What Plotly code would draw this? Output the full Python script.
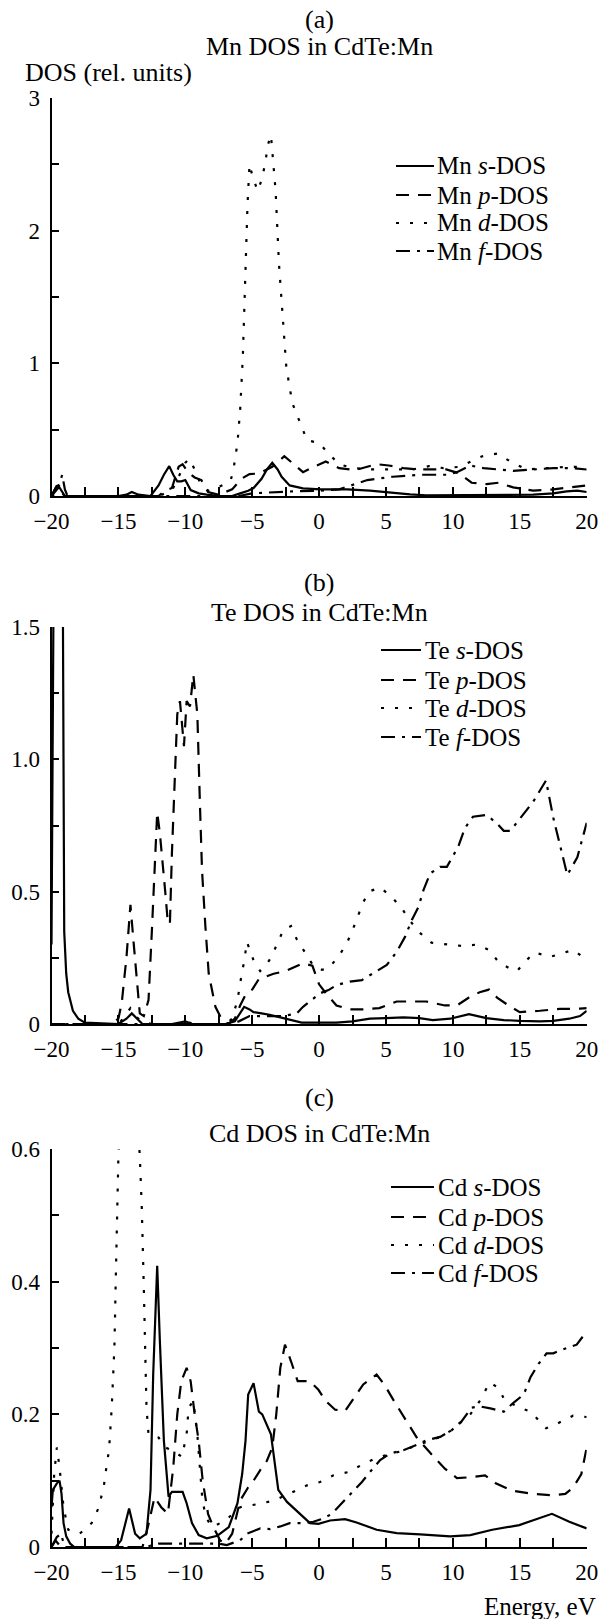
import plotly.graph_objects as go

# ---------------- data (energy in eV, DOS in rel. units) ----------------
mn_s_E = [-20, -19.7, -19.5, -19.2, -19.0, -18, -15, -14.4, -14.0, -13.5, -12.6, -12.0, -11.6, -11.2, -10.9, -10.6, -10.3, -10.0, -9.6, -9.0, -8.4, -7.4, -6.5, -5.9, -5.3, -4.9, -4.3, -3.9, -3.5, -3.1, -2.8, -2.2, -1.2, 0.1, 2.1, 3.8, 5.3, 6.8, 8, 10, 12, 14, 16, 17.5, 18.5, 19.3, 20]
mn_s = [0.0, 0.06, 0.08, 0.03, 0.0, 0.0, 0.0, 0.01, 0.03, 0.01, 0.0, 0.08, 0.16, 0.225, 0.16, 0.11, 0.11, 0.12, 0.045, 0.02, 0.01, 0.0, 0.0, 0.02, 0.04, 0.06, 0.13, 0.2, 0.25, 0.2, 0.145, 0.08, 0.058, 0.05, 0.05, 0.04, 0.025, 0.013, 0.005, 0.005, 0.005, 0.005, 0.01, 0.02, 0.035, 0.04, 0.03]

mn_p_E = [-20, -19.6, -19.3, -19.0, -12.0, -11.5, -11.0, -10.5, -10.2, -9.8, -9.3, -8.8, -8.3, -7.5, -6.5, -5.8, -5.2, -4.5, -3.5, -2.6, -1.9, -1.2, -0.4, 0.5, 1.5, 2.7, 4.3, 5.2, 6.3, 7.5, 8.5, 9.5, 10.5, 11.4, 12.5, 13.4, 14.5, 16.0, 17.5, 19.0, 20.0]
mn_p = [0.0, 0.08, 0.03, 0.0, 0.0, 0.04, 0.06, 0.22, 0.24, 0.18, 0.14, 0.12, 0.03, 0.01, 0.05, 0.13, 0.165, 0.17, 0.22, 0.3, 0.24, 0.18, 0.22, 0.26, 0.21, 0.195, 0.24, 0.23, 0.21, 0.2, 0.2, 0.2, 0.17, 0.1, 0.09, 0.1, 0.065, 0.04, 0.05, 0.07, 0.08]

mn_d_E = [-20, -19.5, -19.0, -12.0, -11.0, -10.5, -10.0, -9.7, -9.3, -8.9, -8.3, -7.7, -7.0, -6.6, -6.4, -6.1, -5.9, -5.7, -5.5, -5.35, -5.2, -5.0, -4.6, -4.3, -4.0, -3.85, -3.6, -3.4, -3.25, -3.0, -2.75, -2.45, -2.0, -1.6, -0.9, 0.0, 0.7, 1.5, 2.5, 4.0, 5.0, 7.0, 8.2, 9.3, 10.5, 12.2, 13.3, 14.3, 15.5, 17.0, 18.5, 20.0]
mn_d = [0.0, 0.03, 0.0, 0.0, 0.04, 0.15, 0.25, 0.28, 0.2, 0.1, 0.04, 0.06, 0.09, 0.12, 0.2, 0.4, 0.65, 1.05, 1.7, 2.2, 2.5, 2.42, 2.3, 2.38, 2.52, 2.64, 2.72, 2.5, 2.3, 1.75, 1.4, 0.97, 0.7, 0.6, 0.42, 0.4, 0.32, 0.24, 0.21, 0.2, 0.2, 0.2, 0.225, 0.21, 0.22, 0.3, 0.32, 0.26, 0.2, 0.21, 0.22, 0.22]

mn_f_E = [-20, -19.5, -19.2, -19.0, -18.8, -6.0, -5.0, -3.5, -2.0, 0.0, 1.5, 2.4, 3.6, 4.3, 5.5, 7.5, 9.5, 10.3, 11.3, 12.3, 13.5, 14.5, 16.0, 17.5, 19.0, 20.0]
mn_f = [0.0, 0.06, 0.16, 0.05, 0.0, 0.0, 0.02, 0.03, 0.035, 0.04, 0.05, 0.08, 0.12, 0.13, 0.145, 0.16, 0.16, 0.18, 0.23, 0.21, 0.2, 0.19, 0.2, 0.21, 0.21, 0.2]

te_s_E = [-20, -19.85, -19.15, -19.05, -18.9, -18.75, -18.4, -18.0, -17.5, -15, -14.4, -14.0, -13.6, -13.2, -11, -10, -9.5, -7, -6.3, -5.6, -5.2, -4.9, -4.3, -3.7, -2.9, -2.0, -1.3, 0, 1.3, 2.5, 3.8, 5, 6.3, 7.5, 8.5, 9.8, 11.2, 12.5, 13.8, 15, 16.5, 17.5, 18.7, 19.5, 20]
te_s = [0.3, 1.6, 1.6, 0.35, 0.19, 0.12, 0.05, 0.02, 0.005, 0.0, 0.02, 0.04, 0.02, 0.0, 0.0, 0.01, 0.0, 0.0, 0.01, 0.065, 0.055, 0.045, 0.04, 0.035, 0.025, 0.015, 0.005, 0.005, 0.005, 0.01, 0.02, 0.022, 0.025, 0.022, 0.015, 0.02, 0.037, 0.022, 0.015, 0.012, 0.01, 0.012, 0.02, 0.03, 0.05]

te_p_E = [-20, -15.5, -15.0, -14.75, -14.4, -14.1, -13.85, -13.6, -13.4, -13.1, -12.75, -12.5, -12.25, -12.1, -11.9, -11.75, -11.5, -11.3, -11.15, -11.0, -10.75, -10.6, -10.4, -10.25, -10.1, -9.9, -9.65, -9.4, -9.1, -8.9, -8.75, -8.5, -8.25, -7.75, -7.25, -6.8, -6.3, -5.9, -5.5, -5.0, -4.5, -3.4, -2.5, -1.2, -0.5, 0.0, 0.6, 1.3, 2.3, 3.2, 4.5, 5.8, 6.7, 8.0, 9.4, 10.3, 11.2, 12.0, 12.7, 13.3, 14.3, 15.0, 16.5, 18.0, 19.5, 20.0]
te_p = [0.0, 0.0, 0.02, 0.08, 0.25, 0.45, 0.3, 0.14, 0.04, 0.03, 0.09, 0.35, 0.645, 0.8, 0.72, 0.645, 0.5, 0.38, 0.38, 0.645, 0.985, 1.17, 1.22, 1.14, 1.05, 1.22, 1.2, 1.32, 1.17, 0.82, 0.58, 0.37, 0.19, 0.065, 0.015, 0.0, 0.02, 0.07, 0.11, 0.13, 0.17, 0.19, 0.2, 0.23, 0.22, 0.15, 0.11, 0.07, 0.055, 0.055, 0.06, 0.085, 0.085, 0.085, 0.07, 0.07, 0.1, 0.12, 0.13, 0.1, 0.065, 0.045, 0.05, 0.057, 0.058, 0.06]

te_d_E = [-20, -15, -14.5, -14.1, -13.7, -13.3, -12.5, -10.5, -10.0, -9.5, -7.0, -6.5, -6.1, -5.95, -5.75, -5.6, -5.4, -5.1, -4.9, -4.4, -4.0, -3.6, -3.17, -2.67, -2.1, -1.67, -1.05, -0.43, 0.2, 0.7, 1.45, 2.07, 2.5, 2.87, 3.26, 3.7, 4.56, 5.43, 6.18, 6.8, 7.4, 8.4, 9.55, 10.67, 11.8, 12.7, 13.4, 14.4, 14.8, 15.4, 16.1, 17.3, 19.0, 20.0]
te_d = [0.0, 0.0, 0.03, 0.06, 0.03, 0.01, 0.0, 0.0, 0.015, 0.0, 0.0, 0.02, 0.09, 0.14, 0.2, 0.235, 0.31, 0.27, 0.24, 0.2, 0.22, 0.25, 0.30, 0.355, 0.37, 0.32, 0.27, 0.22, 0.205, 0.21, 0.255, 0.305, 0.355, 0.405, 0.455, 0.5, 0.516, 0.48, 0.437, 0.39, 0.35, 0.307, 0.3, 0.295, 0.3, 0.28, 0.235, 0.205, 0.2, 0.236, 0.27, 0.254, 0.28, 0.242]

te_f_E = [-20, -7, -6, -5.2, -4.5, -3.67, -2.67, -1.67, -1.2, 0.07, 0.7, 1.3, 2.3, 3.2, 4.3, 5.06, 5.8, 6.43, 6.93, 7.43, 7.8, 8.3, 9.05, 9.55, 10.4, 10.9, 11.5, 12.5, 13.3, 13.8, 14.3, 15.0, 16.0, 16.96, 17.5, 18.55, 19.3, 20.0]
te_f = [0.0, 0.0, 0.01, 0.03, 0.03, 0.03, 0.03, 0.04, 0.065, 0.116, 0.128, 0.147, 0.16, 0.166, 0.198, 0.223, 0.273, 0.33, 0.393, 0.443, 0.506, 0.569, 0.594, 0.594, 0.67, 0.74, 0.783, 0.79, 0.758, 0.73, 0.73, 0.777, 0.84, 0.92, 0.78, 0.563, 0.63, 0.76]

cd_s_E = [-20, -19.9, -19.6, -19.4, -19.25, -19.1, -18.9, -18.6, -18.3, -15.2, -14.8, -14.5, -14.2, -13.75, -13.4, -12.9, -12.6, -12.4, -12.1, -11.9, -11.6, -11.25, -11.0, -10.2, -9.9, -9.5, -9.0, -8.4, -7.6, -6.75, -6.1, -5.75, -5.5, -5.3, -4.9, -4.5, -4.25, -3.6, -3.25, -3.05, -2.4, -1.4, -0.68, -0.05, 0.82, 1.94, 2.8, 4.3, 5.8, 7.55, 9.8, 11.3, 12.94, 14.96, 16.2, 17.4, 18.7, 20.0]
cd_s = [0.06, 0.086, 0.096, 0.1, 0.08, 0.036, 0.016, 0.005, 0.0, 0.0, 0.01, 0.036, 0.058, 0.02, 0.013, 0.02, 0.086, 0.26, 0.424, 0.31, 0.16, 0.076, 0.083, 0.083, 0.066, 0.036, 0.018, 0.013, 0.017, 0.03, 0.066, 0.11, 0.16, 0.23, 0.247, 0.204, 0.2, 0.17, 0.12, 0.086, 0.068, 0.05, 0.036, 0.035, 0.04, 0.042, 0.037, 0.026, 0.021, 0.019, 0.016, 0.018, 0.026, 0.033, 0.042, 0.05, 0.038, 0.028]

cd_p_E = [-20, -19.7, -19.3, -13.2, -12.8, -12.3, -11.8, -11.3, -10.9, -10.6, -10.3, -9.9, -9.6, -9.3, -9.0, -8.7, -8.3, -7.9, -7.4, -7.0, -6.5, -5.9, -5.3, -4.9, -4.4, -3.9, -3.5, -3.2, -2.9, -2.55, -2.1, -1.6, -0.7, -0.05, 0.5, 1.2, 1.94, 2.6, 3.3, 4.3, 4.9, 5.6, 6.4, 7.3, 8.3, 9.4, 10.3, 11.2, 12.4, 13.2, 14.4, 16.0, 17.5, 18.4, 19.0, 19.6, 20.0]
cd_p = [0.0, 0.01, 0.0, 0.0, 0.03, 0.075, 0.06, 0.05, 0.12, 0.2, 0.25, 0.27, 0.25, 0.2, 0.16, 0.1, 0.05, 0.03, 0.01, 0.005, 0.02, 0.07, 0.09, 0.1, 0.116, 0.13, 0.15, 0.2, 0.27, 0.305, 0.28, 0.25, 0.25, 0.237, 0.22, 0.207, 0.205, 0.225, 0.245, 0.26, 0.244, 0.22, 0.195, 0.165, 0.142, 0.118, 0.104, 0.105, 0.108, 0.096, 0.085, 0.08, 0.078, 0.08, 0.09, 0.11, 0.15]

cd_d_E = [-20, -19.8, -19.6, -19.4, -19.1, -18.75, -17.9, -17.0, -16.5, -16.1, -15.9, -15.7, -15.5, -15.3, -15.2, -15.1, -15.0, -14.8, -13.6, -13.4, -13.25, -13.1, -13.0, -12.9, -12.75, -12.0, -11.5, -11.0, -10.25, -9.9, -9.75, -9.4, -9.1, -8.9, -8.75, -8.5, -8.0, -7.0, -5.9, -4.5, -3.4, -2.5, -1.67, -0.9, 0.07, 1.07, 2.2, 3.2, 4.06, 5.06, 6.06, 7.05, 8.05, 9.05, 9.9, 10.7, 11.3, 12.0, 12.75, 13.4, 13.9, 14.3, 15.0, 15.8, 16.97, 17.8, 18.98, 20.0]
cd_d = [0.02, 0.11, 0.15, 0.12, 0.06, 0.026, 0.02, 0.036, 0.058, 0.09, 0.12, 0.146, 0.21, 0.30, 0.40, 0.51, 0.59, 0.65, 0.65, 0.59, 0.51, 0.39, 0.29, 0.21, 0.17, 0.165, 0.15, 0.146, 0.136, 0.17, 0.21, 0.22, 0.17, 0.12, 0.078, 0.046, 0.03, 0.04, 0.06, 0.065, 0.07, 0.078, 0.086, 0.093, 0.098, 0.108, 0.113, 0.124, 0.132, 0.139, 0.144, 0.151, 0.159, 0.166, 0.176, 0.189, 0.2, 0.22, 0.248, 0.24, 0.22, 0.217, 0.21, 0.204, 0.179, 0.186, 0.198, 0.196]

cd_f_E = [-20, -19.6, -19.3, -19, -13, -12.0, -11.0, -9.5, -8.5, -7.5, -6.9, -5.9, -5.4, -4.4, -3.67, -2.9, -2.2, -1.2, -0.43, 0.32, 0.95, 1.7, 2.44, 3.2, 3.8, 4.56, 5.3, 6.3, 7.3, 8.05, 9.05, 9.9, 10.67, 11.4, 12.0, 12.8, 13.8, 14.5, 15.3, 15.8, 16.4, 17.0, 17.5, 18.1, 19.25, 20.0]
cd_f = [0.0, 0.015, 0.02, 0.0, 0.0, 0.005, 0.005, 0.005, 0.005, 0.005, 0.003, 0.01, 0.02, 0.028, 0.027, 0.031, 0.036, 0.036, 0.038, 0.043, 0.05, 0.066, 0.081, 0.098, 0.113, 0.131, 0.141, 0.146, 0.154, 0.161, 0.166, 0.176, 0.19, 0.21, 0.212, 0.209, 0.204, 0.217, 0.23, 0.256, 0.276, 0.292, 0.292, 0.297, 0.305, 0.325]

x_tickvals = [-20, -17.5, -15, -12.5, -10, -7.5, -5, -2.5, 0, 2.5, 5, 7.5, 10, 12.5, 15, 17.5, 20]
x_ticktext = ["\u221220", "", "\u221215", "", "\u221210", "", "\u22125", "", "0", "", "5", "", "10", "", "15", "", "20"]
ya_tickvals = [0, 0.5, 1, 1.5, 2, 2.5, 3]
ya_ticktext = ["0", "", "1", "", "2", "", "3"]
yb_tickvals = [0, 0.25, 0.5, 0.75, 1.0, 1.25, 1.5]
yb_ticktext = ["0", "", "0.5", "", "1.0", "", "1.5"]
yc_tickvals = [0, 0.1, 0.2, 0.3, 0.4, 0.5, 0.6]
yc_ticktext = ["0", "", "0.2", "", "0.4", "", "0.6"]

orbitals = ["s", "p", "d", "f"]

# ---------------- figure ----------------
W, H = 600, 1619
FONT = "Liberation Serif"
FS_TITLE = 26
FS_LEG = 25
FT = 23
LW = 2.2

def py(px):
    return 1 - px / H

dash_styles = {
    "s": "solid",
    "p": "13px,9px",
    "d": "3px,11px",
    "f": "14px,7px,3px,7px",
}

fig = go.Figure()

panels = [
    ("Mn", "x", "y",
     [(mn_s_E, mn_s), (mn_p_E, mn_p), (mn_d_E, mn_d), (mn_f_E, mn_f)],
     dict(x0=396, x1=434, tx=435, rows=[166, 195, 223, 251])),
    ("Te", "x2", "y2",
     [(te_s_E, te_s), (te_p_E, te_p), (te_d_E, te_d), (te_f_E, te_f)],
     dict(x0=381, x1=421, tx=423, rows=[650, 680, 708, 737])),
    ("Cd", "x3", "y3",
     [(cd_s_E, cd_s), (cd_p_E, cd_p), (cd_d_E, cd_d), (cd_f_E, cd_f)],
     dict(x0=391, x1=434, tx=436, rows=[1187, 1217, 1245, 1273])),
]

for elem, xa, ya, series, leg in panels:
    for (E, v), orb, row in zip(series, orbitals, leg["rows"]):
        name = f"{elem} <i>{orb}</i>-DOS"
        fig.add_trace(go.Scatter(
            x=E, y=v, mode="lines", xaxis=xa, yaxis=ya, name=name,
            line=dict(color="black", width=LW, dash=dash_styles[orb]),
            hoverinfo="skip", showlegend=False,
        ))
        # legend sample + label
        fig.add_shape(type="line", xref="paper", yref="paper",
                      x0=leg["x0"] / W, x1=leg["x1"] / W, y0=py(row), y1=py(row),
                      line=dict(color="black", width=LW, dash=dash_styles[orb]))
        fig.add_annotation(text=name, x=leg["tx"] / W, y=py(row), xref="paper", yref="paper",
                           xanchor="left", yanchor="middle", showarrow=False,
                           font=dict(family=FONT, size=FS_LEG, color="black"))

xdom = [51.5 / W, 586.7 / W]
axis_common = dict(
    showline=True, linecolor="black", linewidth=2, showgrid=False, zeroline=False,
    ticks="inside", tickcolor="black", tickwidth=2,
    tickfont=dict(family=FONT, size=FT, color="black"),
    tickmode="array", mirror=False, automargin=False,
)

def xaxis(anchor):
    return dict(axis_common, domain=xdom, range=[-20, 20], anchor=anchor,
                tickvals=x_tickvals, ticktext=x_ticktext, ticklen=9,
                ticklabelstandoff=3)

def yaxis(anchor, dom, rng, tv, tt):
    return dict(axis_common, domain=dom, range=rng, anchor=anchor,
                tickvals=tv, ticktext=tt, ticklen=7, ticklabelstandoff=5)

fig.update_layout(
    template="none",
    width=W, height=H,
    margin=dict(l=0, r=0, t=0, b=0, autoexpand=False),
    paper_bgcolor="white", plot_bgcolor="white",
    font=dict(family=FONT, size=FS_LEG, color="black"),
    xaxis=xaxis("y"),
    yaxis=yaxis("x", [py(496), py(98)], [0, 3], ya_tickvals, ya_ticktext),
    xaxis2=xaxis("y2"),
    yaxis2=yaxis("x2", [py(1024), py(627)], [0, 1.5], yb_tickvals, yb_ticktext),
    xaxis3=xaxis("y3"),
    yaxis3=yaxis("x3", [py(1547), py(1149)], [0, 0.6], yc_tickvals, yc_ticktext),
    showlegend=False,
)

cx = (xdom[0] + xdom[1]) / 2
annots = [
    ("(a)", cx, 20, "center"),
    ("Mn DOS in CdTe:Mn", cx, 47, "center"),
    ("(b)", cx, 582, "center"),
    ("Te DOS in CdTe:Mn", cx, 612, "center"),
    ("(c)", cx, 1097, "center"),
    ("Cd DOS in CdTe:Mn", cx, 1133, "center"),
]
for text, x, ypx, xa in annots:
    fig.add_annotation(text=text, x=x, y=py(ypx), xref="paper", yref="paper",
                       xanchor=xa, yanchor="middle", showarrow=False,
                       font=dict(family=FONT, size=FS_TITLE, color="black"))
fig.add_annotation(text="DOS (rel. units)", x=23 / W, y=py(72), xref="paper", yref="paper",
                   xanchor="left", yanchor="middle", showarrow=False,
                   font=dict(family=FONT, size=FS_TITLE, color="black"))
fig.add_annotation(text="Energy, eV", x=598 / W, y=py(1606), xref="paper", yref="paper",
                   xanchor="right", yanchor="middle", showarrow=False,
                   font=dict(family=FONT, size=FS_LEG, color="black"))

fig.write_html(
    "out.html",
    config={"displayModeBar": False, "staticPlot": True},
    post_script="document.body.style.margin='0';document.body.style.overflow='hidden';",
)
